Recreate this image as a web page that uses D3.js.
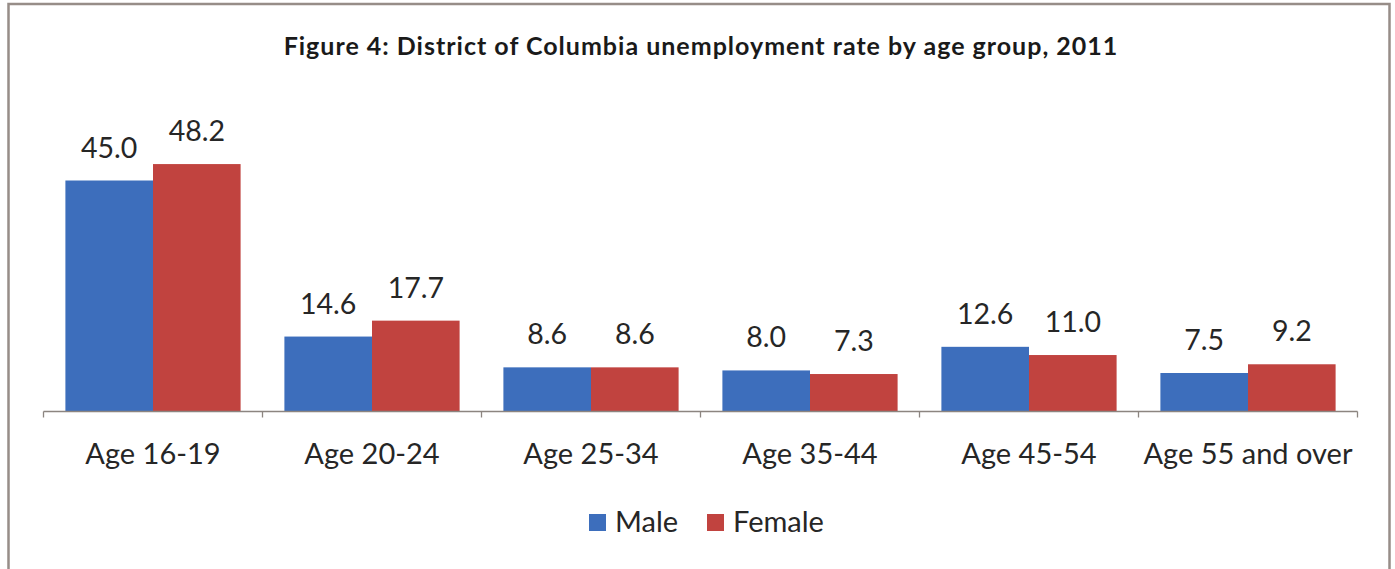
<!DOCTYPE html>
<html>
<head>
<meta charset="utf-8">
<script src="https://cdn.jsdelivr.net/npm/d3@7/dist/d3.min.js"></script>
<style>
  html, body { margin: 0; padding: 0; background: #ffffff; }
  svg { display: block; }
</style>
</head>
<body>
<svg id="chart" width="1395" height="569"></svg>
<script>
// Unemployment rate (%) by age group, District of Columbia, 2011
const categories = ["Age 16-19", "Age 20-24", "Age 25-34", "Age 35-44", "Age 45-54", "Age 55 and over"];
const maleValues = [45.0, 14.6, 8.6, 8.0, 12.6, 7.5];
const femaleValues = [48.2, 17.7, 8.6, 7.3, 11.0, 9.2];
const seriesNames = ["Male", "Female"];
const seriesColors = ["#3D6EBC", "#C1433F"];
const titleText = "Figure 4: District of Columbia unemployment rate by age group, 2011";

const svg = d3.select("#chart");
const font = "Lato, 'Open Sans', sans-serif";

// outer frame
svg.append("rect")
  .attr("x", 8.5).attr("y", 4).attr("width", 1381).attr("height", 580)
  .attr("fill", "#ffffff").attr("stroke", "#978d88").attr("stroke-width", 2.5);

// plot geometry
const plot = { left: 43.5, right: 1357.5, top: 103.5, bottom: 411.5 };

const x0 = d3.scaleBand()
  .domain(categories)
  .range([plot.left, plot.right])
  .paddingInner(0).paddingOuter(0);

const series = seriesNames.map((name, i) => ({
  name, color: seriesColors[i], values: i === 0 ? maleValues : femaleValues
}));

const groupPad = 0.2; // fraction of band left empty around each pair
const x1 = d3.scaleBand()
  .domain(seriesNames)
  .range([x0.bandwidth() * groupPad / 2, x0.bandwidth() * (1 - groupPad / 2)])
  .padding(0);

const y = d3.scaleLinear().domain([0, 60]).range([plot.bottom, plot.top]);

// title
svg.append("text")
  .attr("x", 701).attr("y", 55)
  .attr("text-anchor", "middle")
  .attr("font-family", font).attr("font-weight", "bold")
  .attr("font-size", 25).attr("letter-spacing", 1)
  .attr("fill", "#1a1a1a")
  .text(titleText);

// bars
const groups = svg.append("g").selectAll("g")
  .data(categories)
  .join("g")
  .attr("transform", d => `translate(${x0(d)},0)`);

groups.selectAll("rect")
  .data((d, i) => series.map(s => ({ name: s.name, color: s.color, value: s.values[i] })))
  .join("rect")
  .attr("x", d => x1(d.name))
  .attr("width", x1.bandwidth())
  .attr("y", d => y(d.value))
  .attr("height", d => y(0) - y(d.value))
  .attr("fill", d => d.color);

// value labels
groups.selectAll("text")
  .data((d, i) => series.map(s => ({ name: s.name, value: s.values[i] })))
  .join("text")
  .attr("x", d => x1(d.name) + x1.bandwidth() / 2)
  .attr("y", d => y(d.value) - 23)
  .attr("text-anchor", "middle")
  .attr("font-family", font).attr("font-size", 28.5)
  .attr("fill", "#262626")
  .text(d => d.value.toFixed(1));

// category axis with ticks between categories
const axisG = svg.append("g");
axisG.append("line")
  .attr("x1", plot.left).attr("x2", plot.right)
  .attr("y1", plot.bottom).attr("y2", plot.bottom)
  .attr("stroke", "#8c8580").attr("stroke-width", 1.3);

const tickPositions = categories.map(c => x0(c)).concat([x0.range()[1]]);
axisG.selectAll("line.tick")
  .data(tickPositions)
  .join("line")
  .attr("class", "tick")
  .attr("x1", d => d).attr("x2", d => d)
  .attr("y1", plot.bottom).attr("y2", plot.bottom + 6)
  .attr("stroke", "#8c8580").attr("stroke-width", 1.3);

axisG.selectAll("text")
  .data(categories)
  .join("text")
  .attr("x", d => x0(d) + x0.bandwidth() / 2)
  .attr("y", 464)
  .attr("text-anchor", "middle")
  .attr("font-family", font).attr("font-size", 29)
  .attr("fill", "#262626")
  .text(d => d);

// legend
const legend = svg.append("g");
const legendItems = [
  { name: seriesNames[0], color: seriesColors[0], x: 589 },
  { name: seriesNames[1], color: seriesColors[1], x: 707 }
];
const li = legend.selectAll("g").data(legendItems).join("g")
  .attr("transform", d => `translate(${d.x},0)`);
li.append("rect")
  .attr("x", 0).attr("y", 514).attr("width", 17).attr("height", 17)
  .attr("fill", d => d.color);
li.append("text")
  .attr("x", 26).attr("y", 532)
  .attr("font-family", font).attr("font-size", 29)
  .attr("fill", "#262626")
  .text(d => d.name);
</script>
</body>
</html>
